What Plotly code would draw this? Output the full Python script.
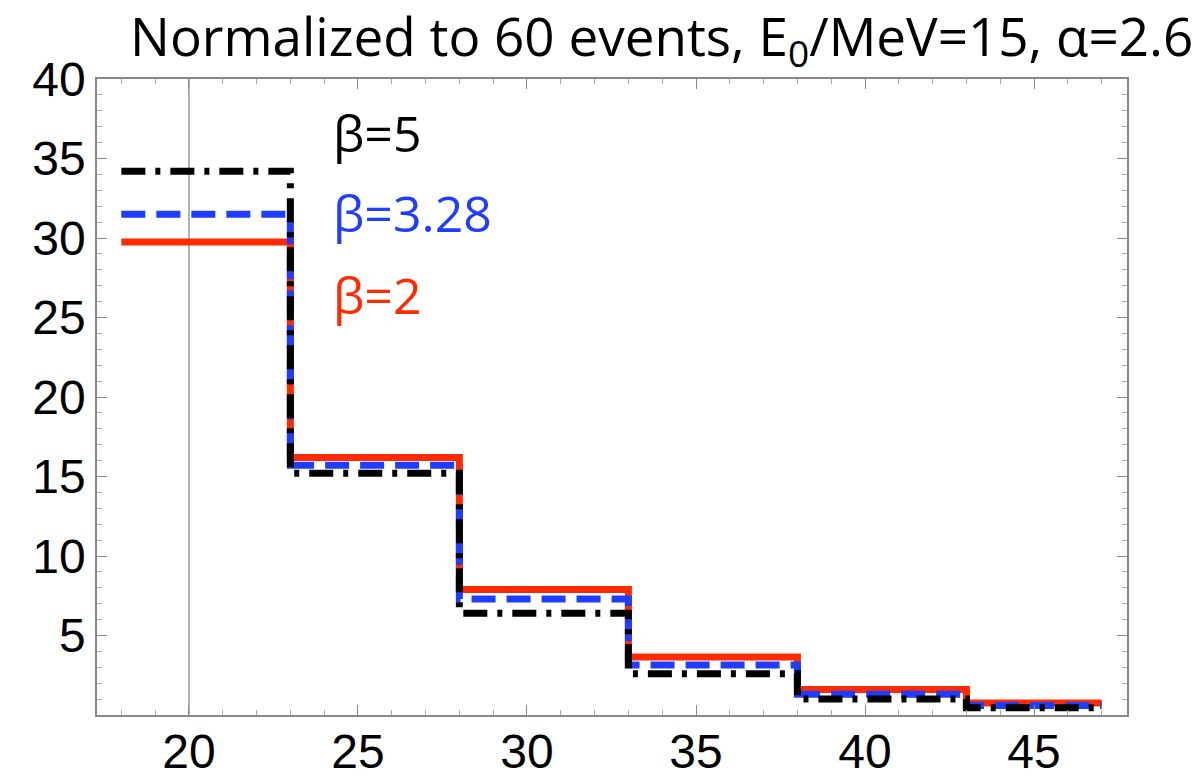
import plotly.graph_objects as go

bin_edges = [18, 23, 28, 33, 38, 43, 47]
beta5 = [34.2, 15.2, 6.4, 2.6, 1.0, 0.45]
beta328 = [31.5, 15.7, 7.3, 3.15, 1.3, 0.6]
beta2 = [29.75, 16.2, 7.9, 3.65, 1.6, 0.75]
x_ticks = [20, 25, 30, 35, 40, 45]
y_ticks = [5, 10, 15, 20, 25, 30, 35, 40]

RED = "#ff2a00"
BLUE = "#1f3dff"
BLACK = "#000000"

fig = go.Figure()
series = [
    ("β=2", beta2, RED, "solid"),
    ("β=3.28", beta328, BLUE, "24px,11px"),
    ("β=5", beta5, BLACK, "24px,10px,5px,10px"),
]
for name, vals, col, dash in series:
    fig.add_trace(go.Scatter(
        x=bin_edges, y=vals + [vals[-1]], mode="lines", line_shape="hv",
        line=dict(color=col, width=7, dash=dash), name=name, showlegend=False,
    ))

fig.add_vline(x=20, line=dict(color="#999999", width=1.5), layer="below")

label_font = "Open Sans"
for txt, yv, col in [("β=5", 36.6, BLACK), ("β=3.28", 31.6, BLUE), ("β=2", 26.4, RED)]:
    fig.add_annotation(x=24.2, y=yv, text=txt, showarrow=False, xanchor="left",
                       yanchor="middle", font=dict(family=label_font, size=50, color=col))

fig.add_annotation(xref="paper", yref="paper", x=1.066, y=1.064, xanchor="right", yanchor="middle",
                   text="Normalized to 60 events, E<sub>0</sub>/MeV=15, α=2.6", showarrow=False,
                   font=dict(family=label_font, size=53, color="black"))

axis_common = dict(showgrid=False, zeroline=False, showline=True, linecolor="#888888", linewidth=1.5,
                   mirror="allticks", ticks="inside", ticklen=10, tickcolor="#888888", tickwidth=1,
                   automargin=False,
                   tickfont=dict(family="Liberation Sans", size=48, color="black"),
                   minor=dict(ticks="inside", ticklen=5, tickcolor="#aaaaaa", dtick=1))

fig.update_xaxes(range=[17.28, 47.75], tickvals=x_ticks, ticklabelstandoff=-6, **axis_common)
fig.update_yaxes(range=[0, 40], tickvals=y_ticks, **axis_common)

fig.update_layout(width=1203, height=778, margin=dict(l=97, r=76, t=79, b=63),
                  plot_bgcolor="white", paper_bgcolor="white")

fig.write_html("out.html")
